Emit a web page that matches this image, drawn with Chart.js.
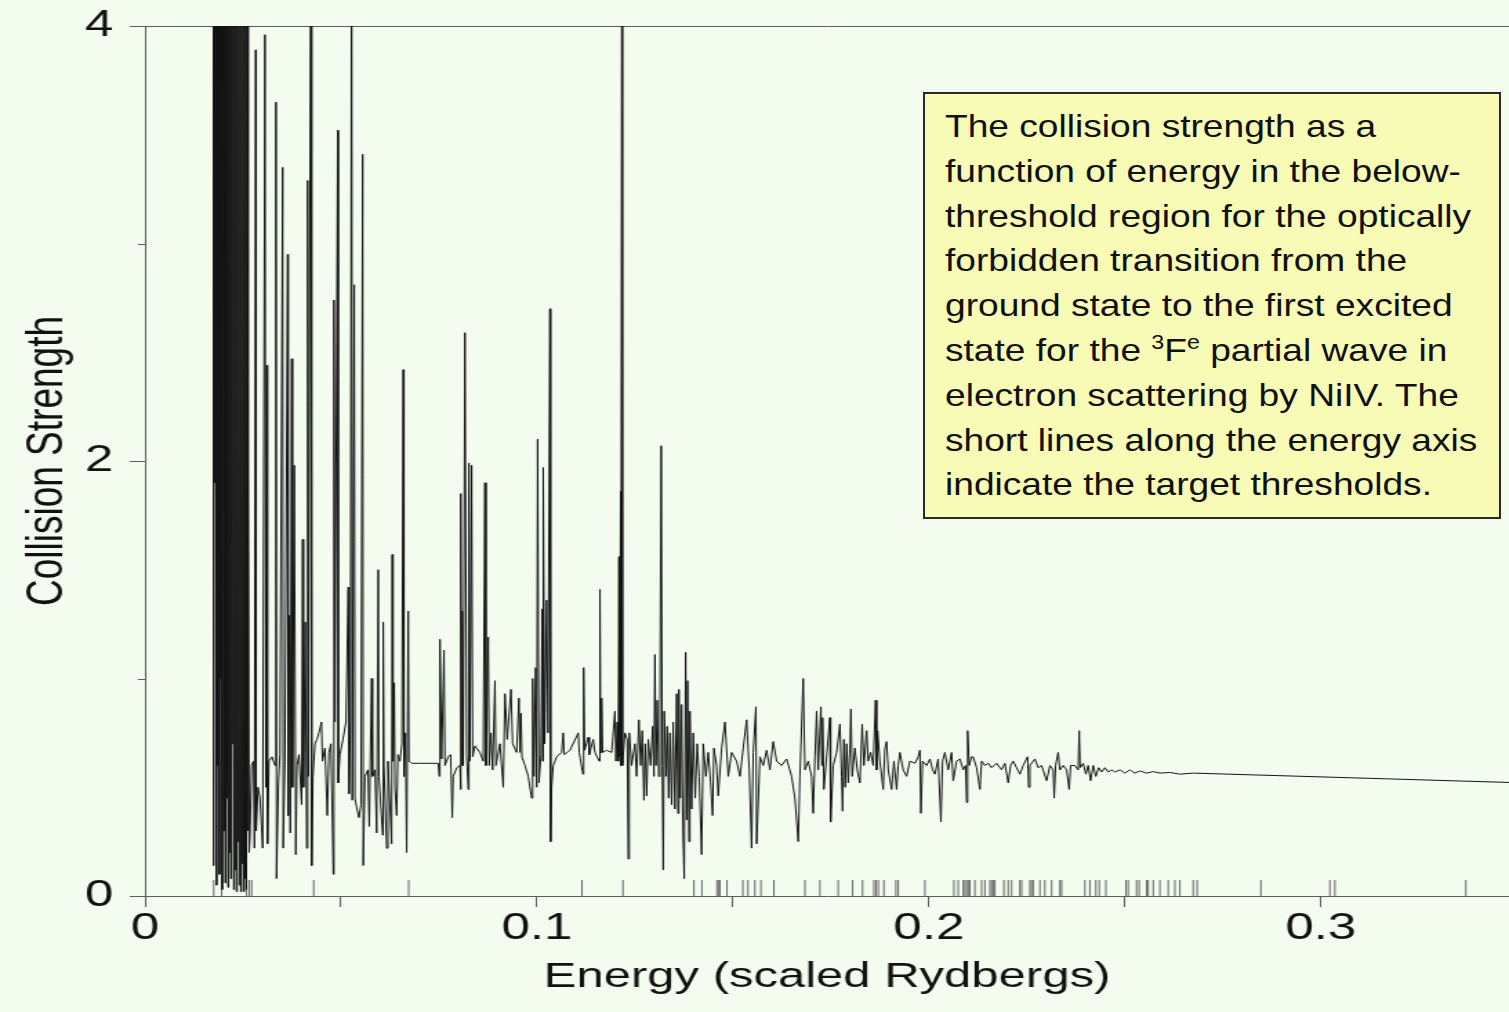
<!DOCTYPE html>
<html>
<head>
<meta charset="utf-8">
<title>Collision strength, NiIV 3Fe partial wave</title>
<script src="https://cdn.jsdelivr.net/npm/chart.js@4.4.1/dist/chart.umd.min.js"></script>
<style>
  html, body { margin: 0; padding: 0; background: #f4fcf0; overflow: hidden; }
  /* the source figure is stretched sideways, so the plot is drawn narrow and widened */
  #plotWrap {
    position: absolute; left: 0; top: 0;
    width: 1093px; height: 1012px;
    transform: scaleX(1.3806); transform-origin: 0 0;
  }
  #note {
    position: absolute; left: 923px; top: 92px;
    width: 578px; height: 427px; box-sizing: border-box;
    background: #f8fbb5; border: 2px solid #2a2a2a;
  }
  #note .txt {
    position: absolute; left: 20px; top: 10px;
    font: 32px/44.8px "Liberation Sans", Arial, sans-serif; color: #111;
    white-space: nowrap;
    transform: scaleX(1.16); transform-origin: 0 0;
  }
  #note sup { font-size: 20px; line-height: 0; vertical-align: 0; position: relative; top: -12px; }
</style>
</head>
<body>
<div id="plotWrap"><canvas id="omegaChart"></canvas></div>
<div id="note"><div class="txt">The collision strength as a<br>function of energy in the below-<br>threshold region for the optically<br>forbidden transition from the<br>ground state to the first excited<br>state for the <sup>3</sup>F<sup>e</sup> partial wave in<br>electron scattering by NiIV. The<br>short lines along the energy axis<br>indicate the target thresholds.</div></div>

<script>
// ── Values ──────────────────────────────────────

const xTickValues = [0, 0.05, 0.1, 0.15, 0.2, 0.25, 0.3];
const xTickLabels = ['0', '', '0.1', '', '0.2', '', '0.3'];
const yTickValues = [0, 2, 4];
const yMinorTicks = [1, 3];

// target thresholds (short lines on the energy axis)
const thresholds = [
  0.01753, 0.01957, 0.02594, 0.02661, 0.02722, 0.04304, 0.06727, 0.11148, 0.12194,
  0.14005, 0.14209, 0.14592, 0.14643, 0.14668, 0.14847, 0.15255, 0.15383, 0.15561,
  0.15714, 0.16046, 0.16837, 0.17219, 0.17686, 0.18054, 0.18309, 0.18597, 0.18648,
  0.18707, 0.18852, 0.19158, 0.19217, 0.19898, 0.20638, 0.20747, 0.20875, 0.20918,
  0.20962, 0.21003, 0.21046, 0.21173, 0.21344, 0.21429, 0.21556, 0.21599, 0.21640,
  0.21684, 0.21913, 0.22023, 0.22110, 0.22321, 0.22365, 0.22577, 0.22620, 0.22661,
  0.22832, 0.22959, 0.23130, 0.23342, 0.23385, 0.23980, 0.24107, 0.24260, 0.24345,
  0.24515, 0.25026, 0.25084, 0.25298, 0.25365, 0.25554, 0.25594, 0.25722, 0.25893,
  0.26105, 0.26276, 0.26403, 0.26742, 0.26844, 0.28469, 0.30230, 0.30357, 0.33699
];

// collision strength [energy, omega], split by energy range
const omegaBlock = [
  [0.01735,0.14],[0.01742,5],[0.01755,0.14],[0.01773,5],[0.01791,1.9],[0.01806,5],[0.01824,0.05],
  [0.01842,5],[0.01862,0.6],[0.01880,5],[0.01898,0.1],[0.01916,5],[0.01934,1.0],[0.01952,5],
  [0.01969,0.03],[0.01990,5],[0.02008,0.3],[0.02025,5],[0.02043,0.06],[0.02061,5],[0.02079,0.45],
  [0.02097,5],[0.02117,0.04],[0.02135,5],[0.02153,0.2],[0.02171,5],[0.02189,0.08],[0.02207,5],
  [0.02224,0.7],[0.02245,5],[0.02263,0.03],[0.02281,5],[0.02298,0.12],[0.02316,5],[0.02334,0.02],
  [0.02352,5],[0.02372,0.25],[0.02390,5],[0.02408,0.05],[0.02426,5],[0.02444,0.02],[0.02462,5],
  [0.02480,0.15],[0.02500,5],[0.02518,0.02],[0.02536,5],[0.02554,0.08],[0.02571,5],[0.02589,0.03],
  [0.02607,5],[0.02625,0.3],[0.02640,2.05],[0.02658,0.2],[0.02679,0.27]
];

const omegaLow = [
  [0.02717,0.60],[0.02768,0.62],[0.02793,0.22],[0.02824,3.89],[0.02837,0.30],[0.02883,0.50],
  [0.02934,0.45],[0.03003,0.22],[0.03061,3.96],[0.03082,0.50],[0.03105,2.44],[0.03125,0.24],
  [0.03163,0.62],[0.03240,0.64],[0.03316,0.60],[0.03342,3.65],[0.03355,0.08],[0.03406,0.52],
  [0.03444,0.65],[0.03513,3.35],[0.03526,0.22],[0.03571,0.62],[0.03640,2.95],[0.03653,0.37],
  [0.03686,1.29],[0.03707,0.29],[0.03742,2.47],[0.03763,0.50],[0.03809,1.98],[0.03847,0.19],
  [0.03878,0.60],[0.03929,0.65],[0.03997,0.42],[0.04023,1.64],[0.04043,0.50],[0.04089,1.26],
  [0.04125,0.22],[0.04151,3.29],[0.04171,0.55],[0.04235,5],[0.04253,0.14],[0.04286,0.55],
  [0.04337,0.70],[0.04388,0.72],[0.04439,0.75],[0.04503,0.80],[0.04528,0.62],[0.04592,0.68],
  [0.04651,0.37],[0.04694,0.66],[0.04745,0.70],[0.04804,0.10],[0.04821,2.74],[0.04847,0.80],
  [0.04916,3.52],[0.04931,0.52],[0.04974,0.65],[0.05051,0.72],[0.05128,0.80],[0.05186,1.42],
  [0.05204,0.47],[0.05242,0.80],[0.05273,5],[0.05288,0.44],[0.05339,2.81],[0.05357,0.45],
  [0.05408,0.40],[0.05459,0.36],[0.05510,0.42],[0.05554,3.41],[0.05569,0.14],[0.05612,0.55],
  [0.05689,0.58],[0.05722,0.32],[0.05783,1.00],[0.05804,0.55],[0.05867,0.58],[0.05911,0.29],
  [0.05952,1.50],[0.05969,0.55],[0.06064,0.28],[0.06079,1.26],[0.06097,0.60],[0.06166,0.22],
  [0.06199,0.62],[0.06293,0.24],[0.06309,1.57],[0.06327,0.62],[0.06360,0.98],[0.06378,0.50],
  [0.06421,0.37],[0.06454,0.65],[0.06505,0.62],[0.06556,0.70],[0.06589,2.42],[0.06607,0.55],
  [0.06645,0.75],[0.06676,0.20],[0.06717,1.31],[0.06735,0.62],[0.06811,0.61],[0.07015,0.61],
  [0.07482,0.61]
];

const omegaMid = [
  [0.07508,0.55],[0.07526,1.18],[0.07569,0.63],[0.07628,1.13],[0.07653,0.60],[0.07737,0.64],
  [0.07798,0.65],[0.07839,0.36],[0.07865,0.55],[0.07952,0.59],[0.08036,0.60],[0.08054,0.49],
  [0.08061,1.85],[0.08079,0.60],[0.08094,1.31],[0.08120,0.60],[0.08163,2.59],[0.08207,0.65],
  [0.08247,0.49],[0.08265,1.99],[0.08291,0.62],[0.08334,1.98],[0.08360,0.64],[0.08418,0.69],
  [0.08546,0.66],[0.08630,0.62],[0.08673,1.90],[0.08699,0.60],[0.08758,1.19],[0.08783,0.60],
  [0.08827,0.75],[0.08870,0.58],[0.08929,0.99],[0.08954,0.60],[0.09056,0.70],[0.09140,0.50],
  [0.09184,0.93],[0.09242,0.72],[0.09337,0.95],[0.09380,0.70],[0.09482,0.66],[0.09541,0.91],
  [0.09566,0.66],[0.09592,0.84],[0.09617,0.64],[0.09694,0.60],[0.09778,0.55],[0.09865,0.45],
  [0.09890,1.00],[0.09923,0.55],[0.09967,1.05],[0.09992,0.50],[0.10018,2.10],[0.10051,0.52],
  [0.10102,0.65],[0.10135,1.32],[0.10145,0.62],[0.10161,1.97],[0.10197,0.70],[0.10247,1.36],
  [0.10281,0.75],[0.10332,2.70],[0.10349,0.25],[0.10375,0.50],[0.10416,0.60],[0.10503,0.64],
  [0.10630,0.66],[0.10671,0.75],[0.10696,0.65],[0.10842,0.67],[0.11054,0.75],[0.11079,0.66],
  [0.11173,0.56],[0.11191,1.05],[0.11217,0.67],[0.11309,0.73],[0.11334,0.65],[0.11436,0.72],
  [0.11480,0.66],[0.11589,0.62],[0.11607,1.41],[0.11625,0.66],[0.11651,0.91],[0.11676,0.66],
  [0.11778,0.67],[0.11906,0.66],[0.11990,0.85],[0.12015,0.62],[0.12048,0.80],[0.12074,0.62],
  [0.12092,1.56],[0.12110,0.64],[0.12135,1.86],[0.12143,0.60],[0.12168,5],[0.12181,0.60],
  [0.12245,0.75],[0.12304,0.72],[0.12329,0.17],[0.12355,0.75],[0.12416,0.60],[0.12500,0.70],
  [0.12543,0.55],[0.12602,0.81],[0.12645,0.60],[0.12686,0.76],[0.12730,0.44],[0.12763,0.70],
  [0.12798,0.46],[0.12839,0.72],[0.12901,0.60],[0.12952,0.78],[0.12985,0.55],[0.13010,1.11],
  [0.13036,0.60],[0.13069,0.90],[0.13105,0.55],[0.13138,0.85],[0.13171,2.07],[0.13196,0.60],
  [0.13222,0.12],[0.13247,0.85],[0.13291,0.55],[0.13324,0.78],[0.13360,0.45],[0.13393,0.75],
  [0.13436,0.42],[0.13477,0.80],[0.13520,0.40],[0.13564,0.93],[0.13597,0.38],[0.13622,0.95],
  [0.13656,0.45],[0.13691,0.88],[0.13724,0.30],[0.13758,0.08],[0.13793,1.12],[0.13819,0.35],
  [0.13844,0.99],[0.13878,0.25],[0.13903,0.85],[0.13946,0.40],[0.13987,0.75],[0.14038,0.45],
  [0.14089,0.70],[0.14140,0.55],[0.14202,0.19],[0.14242,0.70],[0.14311,0.55],[0.14370,0.66],
  [0.14431,0.52],[0.14482,0.37],[0.14515,0.68],[0.14584,0.60]
];

const omegaHigh = [
  [0.14625,0.46],[0.14712,0.68],[0.14796,0.80],[0.14880,0.55],[0.14967,0.66],[0.15094,0.62],
  [0.15179,0.55],[0.15263,0.68],[0.15349,0.81],[0.15416,0.58],[0.15477,0.22],[0.15518,0.66],
  [0.15587,0.87],[0.15605,0.24],[0.15689,0.64],[0.15773,0.60],[0.15860,0.67],[0.15944,0.58],
  [0.16028,0.71],[0.16115,0.62],[0.16242,0.60],[0.16370,0.63],[0.16497,0.55],[0.16582,0.45],
  [0.16666,0.25],[0.16709,0.55],[0.16793,1.00],[0.16837,0.58],
  [0.16921,0.62],[0.17008,0.55],[0.17048,0.38],[0.17092,0.64],[0.17135,0.85],[0.17176,0.58],
  [0.17245,0.87],[0.17270,0.60],[0.17288,0.82],[0.17321,0.49],[0.17390,0.64],[0.17474,0.82],
  [0.17492,0.34],[0.17559,0.60],[0.17645,0.66],[0.17730,0.79],[0.17773,0.55],[0.17798,0.39],
  [0.17832,0.72],[0.17865,0.50],[0.17901,0.70],[0.17941,0.52],[0.17985,0.68],[0.18010,0.86],
  [0.18043,0.55],[0.18112,0.68],[0.18171,0.58],[0.18240,0.52],[0.18298,0.79],[0.18342,0.60],
  [0.18411,0.76],[0.18452,0.62],[0.18513,0.66],[0.18579,0.60],[0.18640,0.90],[0.18666,0.58],
  [0.18691,0.76],[0.18750,0.62],[0.18834,0.49],[0.18878,0.68],[0.18921,0.71],[0.18962,0.58],
  [0.19048,0.49],[0.19107,0.62],[0.19176,0.49],[0.19217,0.60],[0.19260,0.66],[0.19344,0.58],
  [0.19431,0.55],[0.19515,0.62],[0.19643,0.61],[0.19727,0.64],[0.19770,0.67],[0.19796,0.38],
  [0.19839,0.62],[0.19941,0.60],[0.20026,0.63],[0.20094,0.58],[0.20153,0.56],[0.20237,0.63],
  [0.20306,0.34],[0.20349,0.62],[0.20408,0.66],[0.20492,0.58],[0.20579,0.66],[0.20620,0.53],
  [0.20707,0.62],[0.20791,0.63],[0.20875,0.58],[0.20936,0.60],[0.20962,0.43],[0.20987,0.76],
  [0.21028,0.60],[0.21089,0.64],[0.21130,0.64],[0.21217,0.59],[0.21301,0.49],[0.21344,0.62],
  [0.21429,0.60],[0.21513,0.61],[0.21599,0.59],[0.21727,0.61],[0.21855,0.58],[0.21939,0.61],
  [0.22023,0.52],[0.22084,0.60],[0.22151,0.62],[0.22237,0.59],[0.22321,0.56],[0.22406,0.60],
  [0.22518,0.64],[0.22543,0.50],[0.22577,0.60],[0.22704,0.63],[0.22788,0.59],[0.22875,0.60],
  [0.23003,0.53],[0.23087,0.60],[0.23171,0.58],[0.23196,0.45],[0.23232,0.60],[0.23298,0.66],
  [0.23342,0.58],[0.23426,0.60],[0.23513,0.58],[0.23579,0.49],[0.23615,0.60],[0.23724,0.60],
  [0.23809,0.58],[0.23834,0.76],[0.23860,0.59],[0.23936,0.61],[0.24005,0.56],[0.24063,0.60],
  [0.24125,0.53],[0.24191,0.60],[0.24260,0.55],[0.24329,0.59],[0.24406,0.57],[0.24490,0.59],
  [0.24574,0.57],[0.24661,0.58],[0.24745,0.57],[0.24872,0.58],[0.25000,0.565],[0.25128,0.58],
  [0.25255,0.565],[0.25383,0.575],[0.25554,0.565],[0.25722,0.572],[0.25893,0.565],[0.26148,0.568],
  [0.26403,0.56],[0.26742,0.565],[0.35,0.521]
];

// ── Styling ─────────────────────────────────────

const FONT = '"Liberation Sans", Arial, Helvetica, sans-serif';
const AXIS_COLOR = '#5c5c5c';
const TEXT_COLOR = '#111';
const X_MAX = 0.348;
const THR_HALF = 8;           // half length of a threshold mark, px
const THR_MID = 0.0368;       // middle of a threshold mark, in omega units

const curvePts = [].concat(omegaBlock, omegaLow, omegaMid, omegaHigh).map(([x, y]) => ({ x, y }));
const thrPts = thresholds.map((e) => ({ x: e, y: THR_MID }));

// fixed box sizes; labels are allowed to overhang the plot edges
function fixBox(s, w, h) {
  if (w != null) s.width = w;
  if (h != null) s.height = h;
  s.paddingTop = s.paddingBottom = s.paddingLeft = s.paddingRight = 0;
}

// short minor ticks on the collision-strength axis
const minorTicks = {
  id: 'minorTicks',
  afterDraw(chart) {
    const { ctx, scales: { y } } = chart;
    ctx.save();
    ctx.strokeStyle = AXIS_COLOR;
    ctx.lineWidth = 1;
    yMinorTicks.forEach((v) => {
      const py = Math.round(y.getPixelForValue(v)) + 0.5;
      ctx.beginPath();
      ctx.moveTo(y.right - 5, py);
      ctx.lineTo(y.right, py);
      ctx.stroke();
    });
    ctx.restore();
  }
};

new Chart(document.getElementById('omegaChart'), {
  type: 'scatter',
  data: {
    datasets: [
      {
        label: 'Collision strength',
        data: curvePts,
        showLine: true,
        borderColor: '#141414',
        borderWidth: 1,
        pointRadius: 0,
        tension: 0
      },
      {
        label: 'Target thresholds',
        data: thrPts,
        showLine: false,
        pointStyle: 'line',
        rotation: 90,
        pointRadius: THR_HALF,
        borderColor: '#666',
        borderWidth: 1
      }
    ]
  },
  options: {
    responsive: true,
    maintainAspectRatio: false,
    animation: false,
    events: [],
    layout: { padding: 0, autoPadding: false },
    plugins: { legend: { display: false }, tooltip: { enabled: false } },
    scales: {
      x: {
        type: 'linear', position: 'bottom', min: 0, max: X_MAX,
        afterBuildTicks: (s) => { s.ticks = xTickValues.map((v) => ({ value: v })); },
        afterFit: (s) => fixBox(s, null, 116),
        ticks: {
          autoSkip: false, maxRotation: 0, padding: 0, color: TEXT_COLOR,
          font: { family: FONT, size: 37 },
          callback: (v, i) => xTickLabels[i]
        },
        grid: { drawOnChartArea: false, drawTicks: true, tickLength: 11, tickColor: AXIS_COLOR, tickWidth: 1 },
        border: { display: true, color: AXIS_COLOR, width: 1 },
        title: {
          display: true, text: 'Energy (scaled Rydbergs)', color: TEXT_COLOR,
          font: { family: FONT, size: 35.5 }, padding: { top: 0, bottom: 13 }
        }
      },
      xTop: {
        type: 'linear', position: 'top', min: 0, max: X_MAX,
        afterFit: (s) => fixBox(s, null, 26),
        ticks: { display: false },
        grid: { display: true, drawOnChartArea: false, drawTicks: false },
        border: { display: true, color: AXIS_COLOR, width: 1 }
      },
      y: {
        min: 0, max: 4,
        afterBuildTicks: (s) => { s.ticks = yTickValues.map((v) => ({ value: v })); },
        afterFit: (s) => fixBox(s, 105, null),
        ticks: {
          padding: 12, color: TEXT_COLOR, font: { family: FONT, size: 37 },
          callback: (v) => String(v)
        },
        grid: { drawOnChartArea: false, drawTicks: true, tickLength: 11, tickColor: AXIS_COLOR, tickWidth: 1 },
        border: { display: true, color: AXIS_COLOR, width: 1 },
        title: {
          display: true, text: 'Collision Strength', color: TEXT_COLOR,
          font: { family: FONT, size: 37 }, padding: { top: 13, bottom: 0 }
        }
      }
    }
  },
  plugins: [minorTicks]
});
</script>
</body>
</html>
